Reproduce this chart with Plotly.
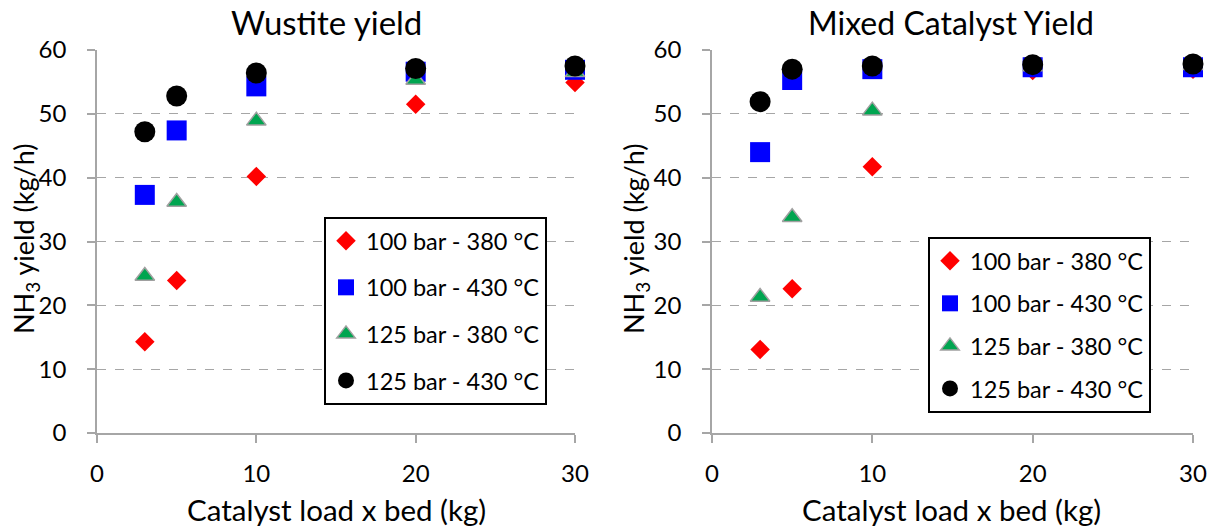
import plotly.graph_objects as go

# ---- data ----
load_kg = [3, 5, 10, 20, 30]
series_names = ["100 bar - 380 °C", "100 bar - 430 °C", "125 bar - 380 °C", "125 bar - 430 °C"]

wustite_100_380 = [14.3, 23.9, 40.2, 51.5, 54.9]
wustite_100_430 = [37.3, 47.4, 54.3, 56.6, 56.9]
wustite_125_380 = [24.6, 36.2, 48.9, 55.3, 56.5]
wustite_125_430 = [47.2, 52.8, 56.4, 57.1, 57.5]

mixed_100_380 = [13.1, 22.6, 41.7, 56.8, 57.0]
mixed_100_430 = [44.0, 55.3, 57.0, 57.3, 57.3]
mixed_125_380 = [21.3, 33.8, 50.5, 57.4, 57.6]
mixed_125_430 = [51.9, 57.0, 57.5, 57.7, 57.8]

y_ticks = [0, 10, 20, 30, 40, 50, 60]
x_ticks = [0, 10, 20, 30]

FONT = "Lato"
W, H = 1218, 532
TOP, BOT = 50, 433


def py(pix):
    """pixel row -> paper y"""
    return (BOT - pix) / (BOT - TOP)


styles = [
    dict(symbol="diamond", size=15, color="#FF0000", line=dict(width=0)),
    dict(symbol="square", size=20, color="#0000FF", line=dict(width=0)),
    dict(symbol="triangle-up", size=17, color="#00A550", line=dict(width=1.5, color="#A0A0A0")),
    dict(symbol="circle", size=21, color="#000000", line=dict(width=0)),
]

fig = go.Figure()
panels = [
    ([wustite_100_380, wustite_100_430, wustite_125_380, wustite_125_430], "x", "y", "legend"),
    ([mixed_100_380, mixed_100_430, mixed_125_380, mixed_125_430], "x2", "y2", "legend2"),
]
for p, (vals, xa, ya, lg) in enumerate(panels):
    for i, (name, v) in enumerate(zip(series_names, vals)):
        fig.add_trace(go.Scatter(
            x=load_kg, y=v, mode="markers", name=name, marker=styles[i],
            xaxis=xa, yaxis=ya, legend=lg, legendgroup=f"{p}-{i}",
            cliponaxis=False,
        ))

axis_common = dict(
    showline=True, linecolor="#A6A6A6", linewidth=1.5,
    ticks="outside", tickcolor="#A6A6A6", ticklen=8, tickwidth=1.5,
    tickfont=dict(family=FONT, size=24, color="#000"),
)
legend_common = dict(
    xref="paper", yref="paper", xanchor="left", yanchor="top",
    bordercolor="#000", borderwidth=2, bgcolor="white",
    font=dict(family=FONT, size=23.5, color="#000"), itemsizing="trace",
)
fig.update_layout(
    width=W, height=H,
    margin=dict(l=0, r=0, t=TOP, b=H - BOT, autoexpand=False),
    paper_bgcolor="white", plot_bgcolor="white",
    showlegend=True,
    font=dict(family=FONT, color="#000"),
    xaxis=dict(domain=[97/W, 575/W], range=[0, 30], tickvals=x_ticks,
               showgrid=False, zeroline=False, ticklabelstandoff=10, anchor="y", **axis_common),
    yaxis=dict(range=[0, 60], tickvals=y_ticks, showgrid=True, gridcolor="#A6A6A6",
               griddash="dash", gridwidth=1, zeroline=False, ticklabelstandoff=16, anchor="x", **axis_common),
    xaxis2=dict(domain=[712/W, 1193/W], range=[0, 30], tickvals=x_ticks,
                showgrid=False, zeroline=False, ticklabelstandoff=10, anchor="y2", **axis_common),
    yaxis2=dict(range=[0, 60], tickvals=y_ticks, showgrid=True, gridcolor="#A6A6A6",
                griddash="dash", gridwidth=1, zeroline=False, ticklabelstandoff=16, anchor="x2", **axis_common),
    legend=dict(x=324/W, y=py(217), tracegroupgap=13, **legend_common),
    legend2=dict(x=928/W, y=py(237), tracegroupgap=9, **legend_common),
    annotations=[
        dict(text="Wustite yield", x=326/W, y=py(22), xref="paper", yref="paper",
             showarrow=False, font=dict(family=FONT, size=33), xanchor="center", yanchor="middle"),
        dict(text="Mixed Catalyst Yield", x=951/W, y=py(22), xref="paper", yref="paper",
             showarrow=False, font=dict(family=FONT, size=32), xanchor="center", yanchor="middle"),
        dict(text="Catalyst load x bed (kg)", x=336/W, y=py(509), xref="paper", yref="paper",
             showarrow=False, font=dict(family=FONT, size=29.5), xanchor="center", yanchor="middle"),
        dict(text="Catalyst load x bed (kg)", x=951/W, y=py(509), xref="paper", yref="paper",
             showarrow=False, font=dict(family=FONT, size=29.5), xanchor="center", yanchor="middle"),
        dict(text="NH<sub>3</sub> yield (kg/h)", x=25/W, y=py(239), xref="paper", yref="paper",
             showarrow=False, font=dict(family=FONT, size=27), textangle=-90, xanchor="center", yanchor="middle"),
        dict(text="NH<sub>3</sub> yield (kg/h)", x=635/W, y=py(239), xref="paper", yref="paper",
             showarrow=False, font=dict(family=FONT, size=27), textangle=-90, xanchor="center", yanchor="middle"),
    ],
)
fig.write_html("out.html", config={"displayModeBar": False},
               post_script="document.body.style.margin='0';")
